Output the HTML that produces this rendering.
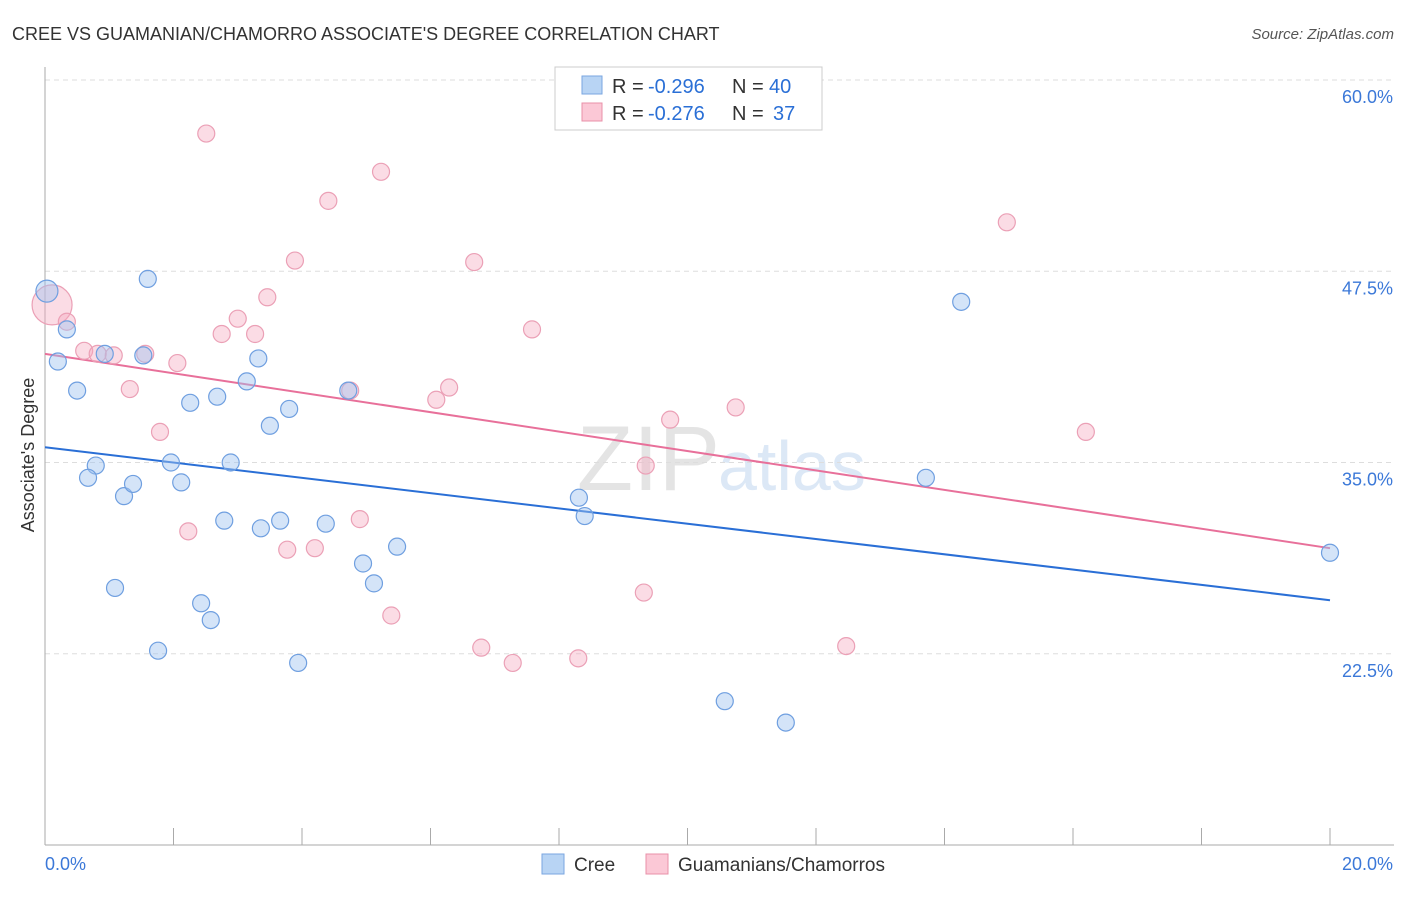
<!DOCTYPE html>
<html><head><meta charset="utf-8"><style>
body{margin:0;background:#fff;font-family:"Liberation Sans",sans-serif;}
svg text{font-family:"Liberation Sans",sans-serif;}
</style></head><body>
<svg id="chart" width="1406" height="892">
<text x="12" y="40" font-size="18" fill="#333">CREE VS GUAMANIAN/CHAMORRO ASSOCIATE'S DEGREE CORRELATION CHART</text>
<text x="1394" y="39" font-size="15" fill="#555" text-anchor="end" font-style="italic">Source: ZipAtlas.com</text>
<text x="720" y="490" font-size="92" fill="#e4e4e4" text-anchor="end" font-family="Liberation Serif">ZIP</text>
<text x="718" y="490" font-size="70" fill="#dce8f6">atlas</text>
<g id="grid"></g><g id="axes"></g><g id="lines"></g><g id="pts"></g>
<text transform="translate(34,455) rotate(-90)" font-size="18" fill="#333" text-anchor="middle">Associate's Degree</text>
<g>
<rect x="555" y="67" width="267" height="63" fill="#fff" stroke="#ccc"/>
<rect x="582" y="76" width="20" height="18" fill="#b8d4f4" stroke="#7aa6e0"/>
<rect x="582" y="103" width="20" height="18" fill="#fbc8d6" stroke="#e890a8"/>
<text x="612" y="93" font-size="20" fill="#333">R =</text>
<text x="648" y="93" font-size="20" fill="#2a6fd6">-0.296</text>
<text x="732" y="93" font-size="20" fill="#333">N =</text>
<text x="769" y="93" font-size="20" fill="#2a6fd6">40</text>
<text x="612" y="120" font-size="20" fill="#333">R =</text>
<text x="648" y="120" font-size="20" fill="#2a6fd6">-0.276</text>
<text x="732" y="120" font-size="20" fill="#333">N =</text>
<text x="773" y="120" font-size="20" fill="#2a6fd6">37</text>
</g>
<rect x="542" y="854" width="22" height="20" fill="#b8d4f4" stroke="#7aa6e0"/>
<text x="574" y="871" font-size="19" fill="#333">Cree</text>
<rect x="646" y="854" width="22" height="20" fill="#fbc8d6" stroke="#e890a8"/>
<text x="678" y="871" font-size="19" fill="#333">Guamanians/Chamorros</text>
</svg>
<script>
const creeX=[0.03,0.34,0.20,0.50,0.79,0.67,0.93,1.23,1.37,1.09,1.53,1.60,1.76,1.96,2.12,2.26,2.43,2.58,2.68,2.79,2.89,3.14,3.32,3.36,3.50,3.66,3.80,3.94,4.37,4.72,4.95,5.12,5.48,8.31,8.40,10.58,11.53,13.71,14.26,20.0];
const creeY=[46.2,43.7,41.6,39.7,34.8,34.0,42.1,32.8,33.6,26.8,42.0,47.0,22.7,35.0,33.7,38.9,25.8,24.7,39.3,31.2,35.0,40.3,41.8,30.7,37.4,31.2,38.5,21.9,31.0,39.7,28.4,27.1,29.5,32.7,31.5,19.4,18.0,34.0,45.5,29.1];
const guamX=[0.11,0.34,0.61,0.82,1.07,1.32,1.56,1.79,2.06,2.23,2.51,2.75,3.00,3.27,3.46,3.77,3.89,4.20,4.41,4.75,4.90,5.23,5.39,6.09,6.29,6.68,6.79,7.28,7.58,8.30,9.32,9.35,9.73,10.75,12.47,14.97,16.20];
const guamY=[45.3,44.2,42.3,42.1,42.0,39.8,42.1,37.0,41.5,30.5,56.5,43.4,44.4,43.4,45.8,29.3,48.2,29.4,52.1,39.7,31.3,54.0,25.0,39.1,39.9,48.1,22.9,21.9,43.7,22.2,26.5,34.8,37.8,38.6,23.0,50.7,37.0];
const guamR=[20,8.5,8.5,8.5,8.5,8.5,8.5,8.5,8.5,8.5,8.5,8.5,8.5,8.5,8.5,8.5,8.5,8.5,8.5,8.5,8.5,8.5,8.5,8.5,8.5,8.5,8.5,8.5,8.5,8.5,8.5,8.5,8.5,8.5,8.5,8.5,8.5];
const creeR=[11];
const creeTrend=[36.0,26.0];
const guamTrend=[42.1,29.4];
const yTicks=[60,47.5,35,22.5];
const yTickLabels=["60.0%","47.5%","35.0%","22.5%"];
const xTicks=[0,2,4,6,8,10,12,14,16,18,20];
const xs=v=>45+v/20*1285;
const ys=v=>80+(60-v)*15.3;
const NS="http://www.w3.org/2000/svg";
function mk(tag,parent,attrs){const e=document.createElementNS(NS,tag);for(const k in attrs)e.setAttribute(k,attrs[k]);document.getElementById(parent).appendChild(e);return e;}
yTicks.forEach((t,i)=>{
 const l=mk('line','grid',{x1:45,x2:1394,y1:ys(t),y2:ys(t),stroke:'#ddd','stroke-dasharray':'5,4'});
 
 
 const tx=mk('text','grid',{x:1393,y:ys(t)+23,'font-size':18,fill:'#3b78d8','text-anchor':'end'});
 tx.textContent=yTickLabels[i];
 
 
});
const ya=mk('line','axes',{x1:45,x2:45,y1:67,y2:845,stroke:'#aaa'});


const xa=mk('line','axes',{x1:45,x2:1394,y1:845,y2:845,stroke:'#aaa'});


xTicks.forEach(t=>{
 const l=mk('line','axes',{x1:xs(t),x2:xs(t),y1:828,y2:845,stroke:'#aaa'});
 
 
});
const xl0=mk('text','axes',{x:45,y:870,'font-size':18,fill:'#3b78d8'});xl0.textContent='0.0%';


const xl1=mk('text','axes',{x:1393,y:870,'font-size':18,fill:'#3b78d8','text-anchor':'end'});xl1.textContent='20.0%';


guamX.forEach((x,i)=>{
 const c=mk('circle','pts',{cx:xs(x),cy:ys(guamY[i]),r:guamR[i],fill:'rgba(244,168,190,0.4)',stroke:'#eba0b6','stroke-width':1.2});
 
 
});
creeX.forEach((x,i)=>{
 const c=mk('circle','pts',{cx:xs(x),cy:ys(creeY[i]),r:creeR[i]||8.5,fill:'rgba(160,196,240,0.45)',stroke:'#6f9fe0','stroke-width':1.2});
 
 
});
const bl=mk('line','lines',{x1:xs(0),x2:xs(20),y1:ys(creeTrend[0]),y2:ys(creeTrend[1]),stroke:'#2a6fd6','stroke-width':2});


const pl=mk('line','lines',{x1:xs(0),x2:xs(20),y1:ys(guamTrend[0]),y2:ys(guamTrend[1]),stroke:'#e8709a','stroke-width':2});


</script>
</body></html>
